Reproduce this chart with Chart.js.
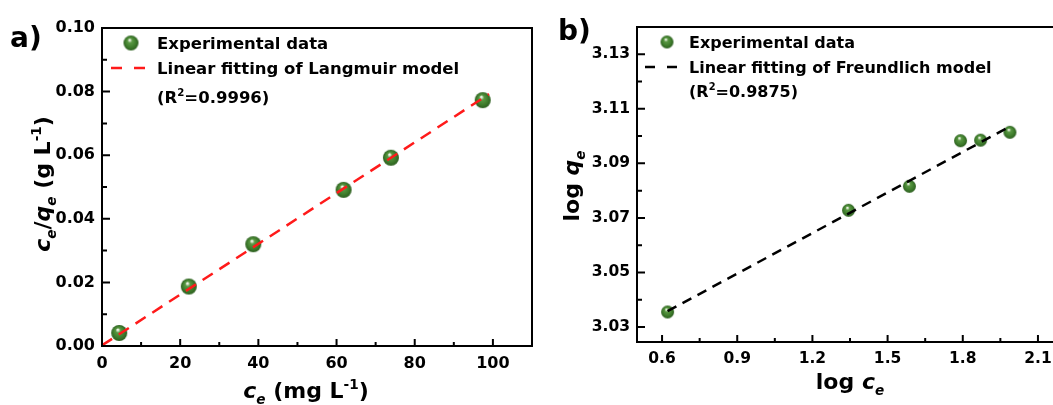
<!DOCTYPE html>
<html>
<head>
<meta charset="utf-8">
<script src="https://cdn.jsdelivr.net/npm/chart.js@4/dist/chart.umd.min.js"></script>
<style>
  html, body { margin: 0; padding: 0; background: #fff; overflow: hidden; }
  #wrap { position: relative; width: 1053px; height: 405px; overflow: hidden; }
  canvas { position: absolute; top: 0; }
  #langmuir { left: 0; }
  #freundlich { left: 540px; }
</style>
</head>
<body>
<div id="wrap">
  <canvas id="langmuir" width="540" height="405"></canvas>
  <canvas id="freundlich" width="530" height="405"></canvas>
</div>
<script>
// ── data: Langmuir (a) ───────────────────────────────────────────────────
const CE_A      = [4.4, 22.2, 38.7, 61.8, 73.9, 97.4];
const CE_QE_A   = [0.0041, 0.0187, 0.0320, 0.0491, 0.0592, 0.0773];
const FIT_A_X   = [0, 99];
const FIT_A_Y   = [0.0002, 0.0792];
const X_TICKS_A = [0, 20, 40, 60, 80, 100];
const Y_TICKS_A = [0, 0.02, 0.04, 0.06, 0.08, 0.10];

// ── data: Freundlich (b) ─────────────────────────────────────────────────
const LOG_CE_B  = [0.622, 1.344, 1.587, 1.791, 1.871, 1.988];
const LOG_QE_B  = [3.0355, 3.0728, 3.0816, 3.0983, 3.0985, 3.1014];
const FIT_B_X   = [0.622, 1.99];
const FIT_B_Y   = [3.0358, 3.1036];
const X_TICKS_B = [0.6, 0.9, 1.2, 1.5, 1.8, 2.1];
const Y_TICKS_B = [3.03, 3.05, 3.07, 3.09, 3.11, 3.13];

const FONT = '"DejaVu Sans", "Liberation Sans", Arial, sans-serif';

// ── shaded green ball used as the point marker ───────────────────────────
function sphere(r) {
  const c = document.createElement('canvas');
  const s = Math.ceil(r * 2 + 2);
  c.width = c.height = s;
  const g = c.getContext('2d');
  const cx = s / 2, cy = s / 2;
  const grad = g.createRadialGradient(cx - r * 0.2, cy - r * 0.45, 0, cx, cy, r);
  grad.addColorStop(0, '#ffffff');
  grad.addColorStop(0.12, '#dbe9d0');
  grad.addColorStop(0.3, '#5a9844');
  grad.addColorStop(0.7, '#3f7d2c');
  grad.addColorStop(1, '#2b5d1e');
  g.fillStyle = grad;
  g.beginPath();
  g.arc(cx, cy, r, 0, Math.PI * 2);
  g.fill();
  return c;
}

// ── mixed-style text (italic, sub/superscript) ───────────────────────────
function runFont(run, size) {
  const s = (run.sub || run.sup) ? size * 0.62 : size;
  return `${run.italic ? 'italic ' : ''}bold ${s}px ${FONT}`;
}

function drawRuns(ctx, runs, x, y, size, align, rotate) {
  ctx.save();
  ctx.translate(x, y);
  if (rotate) ctx.rotate(-Math.PI / 2);
  ctx.fillStyle = '#000';
  ctx.textBaseline = 'alphabetic';
  ctx.textAlign = 'left';
  let total = 0;
  for (const r of runs) { ctx.font = runFont(r, size); total += ctx.measureText(r.t).width; }
  let cx = align === 'center' ? -total / 2 : 0;
  for (const r of runs) {
    ctx.font = runFont(r, size);
    const dy = r.sub ? size * 0.28 : r.sup ? -size * 0.42 : 0;
    ctx.fillText(r.t, cx, dy);
    cx += ctx.measureText(r.t).width;
  }
  ctx.restore();
}

// ── frame, inward ticks, axis titles and legend ──────────────────────────
function makeDecor(cfg) {
  return {
    id: 'decor',
    afterDatasetsDraw(chart) {
      const ctx = chart.ctx;
      const { left, right, top, bottom } = chart.chartArea;
      ctx.save();
      ctx.strokeStyle = '#000';
      ctx.lineWidth = 2;
      ctx.strokeRect(left, top, right - left, bottom - top);

      const xs = chart.scales.x, ys = chart.scales.y;
      const minors = (scale) => {
        const v = scale.ticks.map(t => t.value);
        const step = v[1] - v[0];
        const out = [];
        for (let m = v[0] - step / 2; m <= scale.max + 1e-9; m += step) {
          if (m > scale.min) out.push(m);
        }
        return out;
      };
      ctx.beginPath();
      for (const t of xs.ticks) {
        const px = xs.getPixelForValue(t.value);
        ctx.moveTo(px, bottom); ctx.lineTo(px, bottom - 7);
      }
      for (const m of minors(xs)) {
        const px = xs.getPixelForValue(m);
        if (px > right - 2) continue;
        ctx.moveTo(px, bottom); ctx.lineTo(px, bottom - 4);
      }
      for (const t of ys.ticks) {
        const py = ys.getPixelForValue(t.value);
        ctx.moveTo(left, py); ctx.lineTo(left + 8, py);
      }
      for (const m of minors(ys)) {
        const py = ys.getPixelForValue(m);
        if (py < top + 2) continue;
        ctx.moveTo(left, py); ctx.lineTo(left + 5, py);
      }
      ctx.stroke();
      ctx.restore();
    },
    afterDraw(chart) {
      const ctx = chart.ctx;
      // panel letter
      ctx.save();
      ctx.font = `bold 28px ${FONT}`;
      ctx.fillStyle = '#000';
      ctx.fillText(cfg.panel, cfg.panelPos[0], cfg.panelPos[1]);
      ctx.restore();

      drawRuns(ctx, cfg.xTitle, cfg.xTitlePos[0], cfg.xTitlePos[1], 22, 'center', false);
      drawRuns(ctx, cfg.yTitle, cfg.yTitlePos[0], cfg.yTitlePos[1], 22, 'center', true);

      // legend block
      const L = cfg.legend;
      ctx.save();
      ctx.drawImage(L.ball, L.markX - L.ball.width / 2, L.rows[0] - L.ball.height / 2);
      ctx.strokeStyle = L.dashColor;
      ctx.lineWidth = 2.5;
      ctx.beginPath();
      ctx.moveTo(L.dash[0], L.rows[1]); ctx.lineTo(L.dash[0] + L.dashLen, L.rows[1]);
      ctx.moveTo(L.dash[1] - L.dashLen, L.rows[1]); ctx.lineTo(L.dash[1], L.rows[1]);
      ctx.stroke();
      ctx.restore();
      const base = L.fontSize * 0.36;
      drawRuns(ctx, [{ t: 'Experimental data' }], L.textX, L.rows[0] + base, L.fontSize);
      drawRuns(ctx, [{ t: L.fitText }], L.textX, L.rows[1] + base, L.fontSize);
      drawRuns(ctx, [{ t: '(R' }, { t: '2', sup: true }, { t: L.r2 + ')' }],
        L.textX, L.rows[2] + base, L.fontSize);
    },
  };
}

// ── shared axis builder ──────────────────────────────────────────────────
function axis(min, max, ticks, fmt, size, pad, fit) {
  return {
    type: 'linear',
    min, max,
    grid: { display: false, drawTicks: false },
    border: { display: false },
    ticks: {
      color: '#000',
      padding: pad,
      font: { family: FONT, weight: 'bold', size },
      callback: fmt,
    },
    afterBuildTicks: s => { s.ticks = ticks.map(v => ({ value: v })); },
    afterFit: fit,
  };
}

function buildChart(id, o) {
  return new Chart(document.getElementById(id), {
    data: {
      datasets: [
        {
          type: 'line',
          data: o.fitX.map((x, i) => ({ x, y: o.fitY[i] })),
          borderColor: o.lineColor,
          borderWidth: 2.5,
          borderDash: o.dash,
          pointRadius: 0,
          fill: false,
          order: 0,
        },
        {
          type: 'scatter',
          data: o.px.map((x, i) => ({ x, y: o.py[i] })),
          pointStyle: o.ball,
          order: 1,
        },
      ],
    },
    options: {
      responsive: false,
      animation: false,
      events: [],
      layout: { padding: o.padding },
      plugins: { legend: { display: false }, tooltip: { enabled: false } },
      scales: { x: o.x, y: o.y },
    },
    plugins: [makeDecor(o.decor)],
  });
}

// ── a) Langmuir ──────────────────────────────────────────────────────────
const ballA = sphere(8);
buildChart('langmuir', {
  px: CE_A, py: CE_QE_A, fitX: FIT_A_X, fitY: FIT_A_Y,
  lineColor: '#ff1a1a', dash: [12, 8], ball: ballA,
  padding: { left: 0, top: 28, right: 8, bottom: 0 },
  x: axis(0, 110, X_TICKS_A, v => String(v), 16, 8, s => { s.height = 59; }),
  y: axis(0, 0.1, Y_TICKS_A, v => v.toFixed(2), 16, 7, s => { s.width = 102; }),
  decor: {
    panel: 'a)', panelPos: [10, 47],
    xTitle: [{ t: 'c', italic: true }, { t: 'e', italic: true, sub: true }, { t: ' (mg L' }, { t: '-1', sup: true }, { t: ')' }],
    xTitlePos: [306, 398],
    yTitle: [{ t: 'c', italic: true }, { t: 'e', italic: true, sub: true }, { t: '/' },
             { t: 'q', italic: true }, { t: 'e', italic: true, sub: true },
             { t: ' (g L' }, { t: '-1', sup: true }, { t: ')' }],
    yTitlePos: [50, 184],
    legend: {
      ball: sphere(7.5), markX: 131, textX: 157, rows: [43, 68, 97],
      dash: [111, 145], dashLen: 11, dashColor: '#ff1a1a', fontSize: 16.5,
      fitText: 'Linear fitting of Langmuir model', r2: '=0.9996',
    },
  },
});

// ── b) Freundlich ────────────────────────────────────────────────────────
const ballB = sphere(6.5);
buildChart('freundlich', {
  px: LOG_CE_B, py: LOG_QE_B, fitX: FIT_B_X, fitY: FIT_B_Y,
  lineColor: '#000', dash: [10, 7], ball: ballB,
  padding: { left: 0, top: 27, right: 12, bottom: 0 },
  x: axis(0.5, 2.18, X_TICKS_B, v => v.toFixed(1), 15.5, 8, s => { s.height = 63; }),
  y: axis(3.0245, 3.14, Y_TICKS_B, v => v.toFixed(2), 15.5, 7, s => { s.width = 97; }),
  decor: {
    panel: 'b)', panelPos: [18, 40],
    xTitle: [{ t: 'log ' }, { t: 'c', italic: true }, { t: 'e', italic: true, sub: true }],
    xTitlePos: [310, 389],
    yTitle: [{ t: 'log ' }, { t: 'q', italic: true }, { t: 'e', italic: true, sub: true }],
    yTitlePos: [39, 186],
    legend: {
      ball: sphere(6.5), markX: 127, textX: 149, rows: [42, 67, 91],
      dash: [105, 137], dashLen: 10, dashColor: '#000', fontSize: 16,
      fitText: 'Linear fitting of Freundlich model', r2: '=0.9875',
    },
  },
});
</script>
</body>
</html>
